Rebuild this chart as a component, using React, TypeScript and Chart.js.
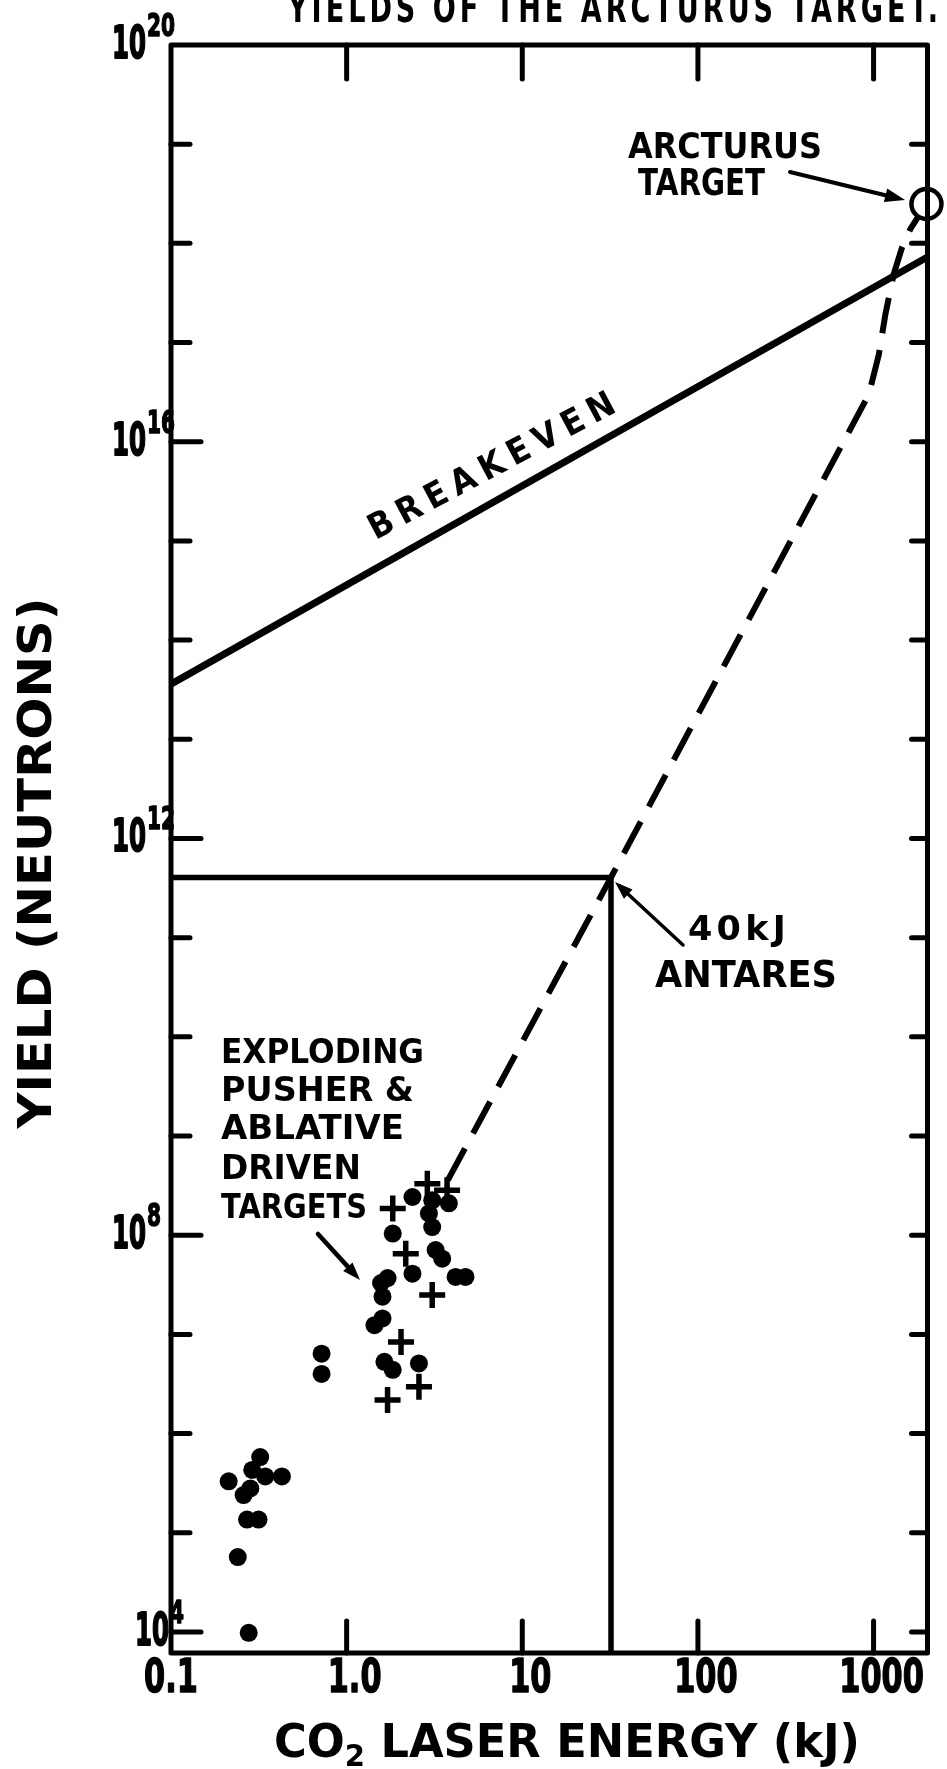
import React, { useEffect, useRef } from "react";
import { Chart, registerables } from "chart.js";

Chart.register(...registerables);

const WIDTH = 947;
const HEIGHT = 1769;

// axis ranges (log-log)
const X_MIN = 0.1;
const X_MAX = 2028;
const Y_MIN = 6140;
const Y_MAX = 1e20;

// tick values / labels
const xTickValues = [0.1, 1, 10, 100, 1000];
const xTickLabels = ["0.1", "1.0", "10", "100", "1000"];
const yLabelExponents = [20, 16, 12, 8, 4];
const yDecadeExponents = [4, 5, 6, 7, 8, 9, 10, 11, 12, 13, 14, 15, 16, 17, 18, 19];

// experimental shots: filled dots (exploding pusher & ablative driven targets)
const dotEnergy = [
  0.322, 0.29, 0.344, 0.428, 0.213, 0.259, 0.283, 0.271, 0.315, 0.24, 0.277,
  0.72, 0.72, 1.44, 1.6, 1.64, 1.83, 2.58, 1.57, 1.71, 1.6, 2.37, 3.21, 3.5, 4.17, 4.75,
  1.83, 2.37, 3.07, 3.82, 2.94, 3.07,
];
const dotYield = [
  5.8e5, 4.3e5, 3.7e5, 3.7e5, 3.3e5, 2.4e5, 2.8e5, 1.36e5, 1.36e5, 5.7e4, 9.8e3,
  6.4e6, 4.0e6, 1.24e7, 1.45e7, 5.3e6, 4.4e6, 5.1e6, 3.3e7, 3.7e7, 2.4e7, 4.1e7, 7.1e7, 5.8e7, 3.8e7, 3.8e7,
  1.04e8, 2.43e8, 2.25e8, 2.1e8, 1.66e8, 1.21e8,
];

// experimental shots: crosses
const crossEnergy = [2.04, 2.58, 1.71, 3.07, 2.17, 1.83, 2.88, 3.73];
const crossYield = [8.4e6, 2.96e6, 2.18e6, 2.5e7, 6.5e7, 1.86e8, 3.3e8, 2.84e8];

// breakeven line
const breakevenEnergy = [0.1, 2028];
const breakevenYield = [3.6e13, 7.3e17];

// 40 kJ Antares
const antaresEnergy = 32;
const antaresYield = 4.05e11;

// dashed projection curve
const trendEnergy = [3.77, 32, 940, 1072, 1169, 1303, 1453, 1618, 2000];
const trendYield = [3.6e8, 4.05e11, 3.0e16, 7.6e16, 1.95e17, 4.9e17, 9.1e17, 1.39e18, 2.5e18];

// Arcturus target
const arcturusEnergy = [2000];
const arcturusYield = [2.5e18];

const FONT = '"DejaVu Sans", "Liberation Sans", sans-serif';

type TextOpts = {
  size: number;
  width?: number;
  sx?: number;
  align?: CanvasTextAlign;
  rot?: number;
  spacing?: number;
  weight?: string;
  stroke?: number;
};

function drawText(ctx: CanvasRenderingContext2D, s: string, x: number, y: number, o: TextOpts) {
  ctx.save();
  ctx.font = `${o.weight ?? "bold"} ${o.size}px ${FONT}`;
  (ctx as any).letterSpacing = `${o.spacing ?? 0}px`;
  let sx = o.sx ?? 1;
  if (o.width) {
    const m = ctx.measureText(s).width;
    sx = o.width / m;
  }
  ctx.translate(x, y);
  if (o.rot) ctx.rotate(o.rot);
  ctx.scale(sx, 1);
  ctx.textAlign = o.align ?? "left";
  ctx.textBaseline = "alphabetic";
  ctx.fillStyle = "#000";
  ctx.fillText(s, 0, 0);
  if (o.stroke) {
    ctx.strokeStyle = "#000";
    ctx.lineJoin = "round";
    ctx.lineWidth = o.stroke;
    ctx.strokeText(s, 0, 0);
  }
  ctx.restore();
}

function seg(ctx: CanvasRenderingContext2D, x1: number, y1: number, x2: number, y2: number) {
  ctx.beginPath();
  ctx.moveTo(x1, y1);
  ctx.lineTo(x2, y2);
  ctx.stroke();
}

function arrow(ctx: CanvasRenderingContext2D, x1: number, y1: number, x2: number, y2: number, w: number, head: number) {
  const ang = Math.atan2(y2 - y1, x2 - x1);
  ctx.save();
  ctx.lineWidth = w;
  ctx.lineCap = "round";
  seg(ctx, x1, y1, x2 - Math.cos(ang) * head * 0.8, y2 - Math.sin(ang) * head * 0.8);
  ctx.beginPath();
  ctx.moveTo(x2, y2);
  ctx.lineTo(x2 - Math.cos(ang) * head + Math.sin(ang) * head * 0.35, y2 - Math.sin(ang) * head - Math.cos(ang) * head * 0.35);
  ctx.lineTo(x2 - Math.cos(ang) * head - Math.sin(ang) * head * 0.35, y2 - Math.sin(ang) * head + Math.cos(ang) * head * 0.35);
  ctx.closePath();
  ctx.fill();
  ctx.restore();
}

const decorPlugin = {
  id: "decor",
  afterDraw(chart: any) {
    const { ctx, chartArea: a, scales } = chart;
    const xs = scales.x;
    const ys = scales.y;
    ctx.save();
    ctx.strokeStyle = "#000";
    ctx.fillStyle = "#000";
    ctx.lineCap = "round";
    ctx.lineJoin = "round";
    ctx.lineWidth = 5;

    // frame
    ctx.strokeRect(a.left, a.top, a.right - a.left, a.bottom - a.top);

    // x ticks (inward, top and bottom)
    xTickValues.forEach((v) => {
      if (v <= X_MIN) return;
      const px = xs.getPixelForValue(v);
      seg(ctx, px, a.bottom, px, a.bottom - 32);
      seg(ctx, px, a.top, px, a.top + 34);
    });

    // y ticks (inward, left and right)
    yDecadeExponents.forEach((e) => {
      const py = ys.getPixelForValue(Math.pow(10, e));
      const major = yLabelExponents.indexOf(e) >= 0;
      seg(ctx, a.left, py, a.left + (major ? 30 : 19), py);
      seg(ctx, a.right, py, a.right - 16, py);
    });

    // x tick labels
    xTickValues.forEach((v, i) => {
      const px = xs.getPixelForValue(v) + (v <= X_MIN ? 0 : 8);
      drawText(ctx, xTickLabels[i], px, a.bottom + 39, { size: 46, sx: 0.66, align: "center", stroke: 1.5 });
    });

    // y tick labels 10^n
    yLabelExponents.forEach((e) => {
      const py = ys.getPixelForValue(Math.pow(10, e));
      const xr = e === 4 ? a.left - 2 : a.left - 25;
      drawText(ctx, "10", xr, py + 13, { size: 45, width: 34, align: "right", stroke: 2 });
      drawText(ctx, String(e), xr + 1, py - 9, { size: 32, width: e < 10 ? 14 : 28, align: "left", stroke: 1.5 });
    });

    // axis titles
    drawText(ctx, "YIELD (NEUTRONS)", 51, 863, { size: 46, width: 531, align: "center", rot: -Math.PI / 2 });
    {
      const size = 47;
      const target = 586;
      ctx.save();
      ctx.font = `bold ${size}px ${FONT}`;
      const w1 = ctx.measureText("CO").width;
      const w3 = ctx.measureText(" LASER ENERGY (kJ)").width;
      ctx.font = `bold ${size * 0.65}px ${FONT}`;
      const w2 = ctx.measureText("2").width;
      ctx.restore();
      const sx = target / (w1 + w2 + w3);
      const x0 = 274;
      const yb = 1757;
      drawText(ctx, "CO", x0, yb, { size, sx });
      drawText(ctx, "2", x0 + w1 * sx, yb + 9, { size: size * 0.65, sx });
      drawText(ctx, " LASER ENERGY (kJ)", x0 + (w1 + w2) * sx, yb, { size, sx });
    }

    // title (cut at top of page)
    drawText(ctx, "YIELDS OF THE ARCTURUS TARGET.", 288, 22, { size: 41, width: 654, spacing: 6 });

    // annotations
    drawText(ctx, "ARCTURUS", 628, 158, { size: 36, width: 194 });
    drawText(ctx, "TARGET", 638, 195, { size: 37, width: 127 });
    arrow(ctx, 790, 172, 905, 200, 4, 20);

    drawText(ctx, "BREAKEVEN", 500, 474, {
      size: 35,
      width: 282,
      align: "center",
      rot: -28 * (Math.PI / 180),
      spacing: 8,
    });

    drawText(ctx, "40kJ", 688, 940, { size: 33, width: 102, spacing: 4 });
    drawText(ctx, "ANTARES", 655, 987, { size: 38, width: 182 });
    arrow(ctx, 683, 945, 615, 882, 3.5, 18);

    const ex = ["EXPLODING", "PUSHER &", "ABLATIVE", "DRIVEN", "TARGETS"];
    const exBase = [1063, 1101, 1139, 1179, 1218];
    const exW = [203, 193, 183, 140, 146];
    ex.forEach((s, i) => drawText(ctx, s, 221, exBase[i], { size: 34, width: exW[i] }));
    arrow(ctx, 318, 1234, 360, 1280, 4.5, 18);

    ctx.restore();
  },
};

export default function App() {
  const ref = useRef<HTMLCanvasElement | null>(null);

  useEffect(() => {
    document.body.style.margin = "0";
    document.body.style.background = "#fff";
    const canvas = ref.current;
    if (!canvas) return;

    const pts = (xs: number[], ys: number[]) => xs.map((x, i) => ({ x, y: ys[i] }));

    const chart = new Chart(canvas, {
      type: "scatter",
      data: {
        datasets: [
          {
            label: "Arcturus target",
            data: pts(arcturusEnergy, arcturusYield),
            pointStyle: "circle",
            pointRadius: 15,
            backgroundColor: "#fff",
            borderColor: "#000",
            borderWidth: 4.5,
            clip: false,
            order: 0,
          },
          {
            label: "dots",
            data: pts(dotEnergy, dotYield),
            pointStyle: "circle",
            pointRadius: 9,
            backgroundColor: "#000",
            borderColor: "#000",
            borderWidth: 0,
            order: 1,
          },
          {
            label: "crosses",
            data: pts(crossEnergy, crossYield),
            pointStyle: "cross",
            pointRadius: 13,
            borderColor: "#000",
            borderWidth: 5.5,
            order: 2,
          },
          {
            label: "projection",
            data: pts(trendEnergy, trendYield),
            showLine: true,
            borderColor: "#000",
            borderWidth: 6,
            borderDash: [36, 17],
            pointRadius: 0,
            clip: false,
            order: 3,
          },
          {
            label: "breakeven",
            data: pts(breakevenEnergy, breakevenYield),
            showLine: true,
            borderColor: "#000",
            borderWidth: 7,
            pointRadius: 0,
            order: 4,
          },
          {
            label: "antares horizontal",
            data: [
              { x: X_MIN, y: antaresYield },
              { x: antaresEnergy, y: antaresYield },
            ],
            showLine: true,
            borderColor: "#000",
            borderWidth: 5.5,
            pointRadius: 0,
            order: 5,
          },
          {
            label: "antares vertical",
            data: [
              { x: antaresEnergy, y: antaresYield },
              { x: antaresEnergy, y: Y_MIN },
            ],
            showLine: true,
            borderColor: "#000",
            borderWidth: 5.5,
            pointRadius: 0,
            order: 6,
          },
        ],
      },
      options: {
        responsive: false,
        animation: false,
        devicePixelRatio: 1,
        events: [],
        layout: { padding: { left: 171, right: WIDTH - 929, top: 45, bottom: HEIGHT - 1653 } },
        plugins: { legend: { display: false }, tooltip: { enabled: false }, title: { display: false } },
        scales: {
          x: { type: "logarithmic", min: X_MIN, max: X_MAX, display: false },
          y: { type: "logarithmic", min: Y_MIN, max: Y_MAX, display: false },
        },
      },
      plugins: [decorPlugin],
    });

    return () => chart.destroy();
  }, []);

  return (
    <div style={{ width: WIDTH, height: HEIGHT, background: "#fff" }}>
      <canvas ref={ref} width={WIDTH} height={HEIGHT} style={{ display: "block" }} />
    </div>
  );
}
